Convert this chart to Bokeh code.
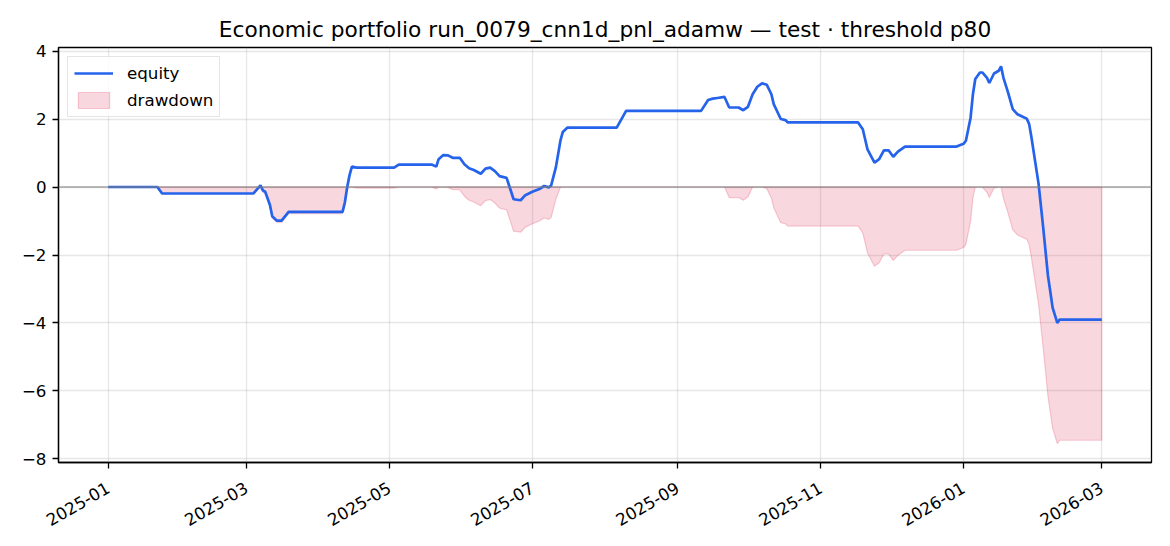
import numpy as np
import pandas as pd
from bokeh.plotting import figure
from bokeh.models import (Range1d, FixedTicker, DatetimeTickFormatter, Span,
                          Legend, LegendItem, CustomJSTickFormatter)
from bokeh.embed import file_html
from bokeh.resources import INLINE

title_text = "Economic portfolio run_0079_cnn1d_pnl_adamw \u2014 test \u00b7 threshold p80"

dates = [
    "2025-01-01", "2025-01-22", "2025-01-24", "2025-03-04", "2025-03-07", "2025-03-08",
    "2025-03-09", "2025-03-11", "2025-03-12", "2025-03-14", "2025-03-16", "2025-03-19",
    "2025-04-11", "2025-04-12", "2025-04-13", "2025-04-14", "2025-04-15", "2025-04-17",
    "2025-05-03", "2025-05-05", "2025-05-19", "2025-05-21", "2025-05-22", "2025-05-24",
    "2025-05-26", "2025-05-28", "2025-05-31", "2025-06-02", "2025-06-04", "2025-06-06",
    "2025-06-09", "2025-06-11", "2025-06-13", "2025-06-15", "2025-06-17", "2025-06-20",
    "2025-06-21", "2025-06-23", "2025-06-26", "2025-06-28", "2025-07-01", "2025-07-04",
    "2025-07-06", "2025-07-08", "2025-07-09", "2025-07-11", "2025-07-13", "2025-07-14",
    "2025-07-16", "2025-08-06", "2025-08-10", "2025-09-11", "2025-09-14", "2025-09-16",
    "2025-09-18", "2025-09-21", "2025-09-23", "2025-09-27", "2025-09-29", "2025-10-01",
    "2025-10-03", "2025-10-05", "2025-10-07", "2025-10-09", "2025-10-11", "2025-10-12",
    "2025-10-15", "2025-10-17", "2025-10-18", "2025-11-17", "2025-11-19", "2025-11-21",
    "2025-11-24", "2025-11-26", "2025-11-28", "2025-11-30", "2025-12-02", "2025-12-04",
    "2025-12-07", "2025-12-29", "2026-01-01", "2026-01-02", "2026-01-04", "2026-01-05",
    "2026-01-06", "2026-01-08", "2026-01-09", "2026-01-11", "2026-01-12", "2026-01-14",
    "2026-01-16", "2026-01-17", "2026-01-18", "2026-01-20", "2026-01-22", "2026-01-24",
    "2026-01-28", "2026-01-29", "2026-01-30", "2026-02-02", "2026-02-04", "2026-02-06",
    "2026-02-07", "2026-02-08", "2026-02-10", "2026-02-11", "2026-03-01",
]
equity = [
    0.00, 0.00, -0.19, -0.19, 0.05, -0.10,
    -0.14, -0.52, -0.86, -0.99, -0.99, -0.73,
    -0.73, -0.45, 0.00, 0.35, 0.60, 0.57,
    0.57, 0.66, 0.66, 0.60, 0.82, 0.94,
    0.93, 0.86, 0.86, 0.67, 0.55, 0.50,
    0.39, 0.54, 0.57, 0.47, 0.32, 0.27,
    0.06, -0.36, -0.39, -0.24, -0.14, -0.06,
    0.03, -0.01, 0.04, 0.57, 1.37, 1.62,
    1.75, 1.75, 2.24, 2.24, 2.56, 2.60,
    2.62, 2.65, 2.34, 2.34, 2.26, 2.36,
    2.73, 2.95, 3.05, 3.01, 2.73, 2.44,
    2.00, 1.97, 1.90, 1.90, 1.70, 1.11,
    0.72, 0.82, 1.08, 1.08, 0.89, 1.04,
    1.19, 1.19, 1.27, 1.36, 2.04, 2.73,
    3.18, 3.37, 3.37, 3.21, 3.06, 3.34,
    3.42, 3.55, 3.22, 2.78, 2.29, 2.14,
    2.01, 1.85, 1.45, 0.10, -1.20, -2.60,
    -3.07, -3.55, -4.00, -3.90, -3.90,
]
x_tick_dates = ["2025-01-01", "2025-03-01", "2025-05-01", "2025-07-01",
                "2025-09-01", "2025-11-01", "2026-01-01", "2026-03-01"]
y_ticks = [-8, -6, -4, -2, 0, 2, 4]


def to_ms(ds):
    return pd.to_datetime(ds).values.astype("datetime64[ms]").astype("int64").astype(float)


x = to_ms(dates)
eq = np.array(equity, dtype=float)
dd = eq - np.maximum.accumulate(eq)

xpad = 0.05 * (x.max() - x.min())
ylo = min(dd.min(), eq.min())
yhi = max(eq.max(), 0.0)
ypad = 0.05 * (yhi - ylo)

FONT = "DejaVu Sans"

p = figure(
    x_axis_type="datetime",
    frame_width=1093, frame_height=415,
    min_border_left=58, min_border_right=11, min_border_top=47, min_border_bottom=80,
    output_backend="svg", toolbar_location=None,
    x_range=Range1d(x.min() - xpad, x.max() + xpad),
    y_range=Range1d(ylo - ypad, yhi + ypad),
    title=title_text,
    background_fill_color="white", border_fill_color="white",
)

p.title.text_font = FONT
p.title.text_font_size = "21.7px"
p.title.text_font_style = "normal"
p.title.align = "center"
p.title.text_color = "black"
p.title.standoff = 11

# drawdown area
xs = np.concatenate([x, x[::-1]])
ys = np.concatenate([dd, np.zeros_like(dd)])
r_dd = p.patch(xs, ys, fill_color="crimson", fill_alpha=0.17,
               line_color="crimson", line_alpha=0.2, line_width=1.2)

p.add_layout(Span(location=0, dimension="width", line_color="#808080",
                  line_alpha=0.7, line_width=1.3))

r_eq = p.line(x, eq, line_color="#2563eb", line_width=2.7)

legend = Legend(items=[LegendItem(label="equity", renderers=[r_eq]),
                       LegendItem(label="drawdown", renderers=[r_dd])],
                location="top_left")
legend.label_text_font = FONT
legend.label_text_font_size = "16.7px"
legend.label_text_color = "black"
legend.glyph_width = 39
legend.glyph_height = 20
legend.label_height = 20
legend.spacing = 7
legend.padding = 6
legend.margin = 9
legend.label_standoff = 14
legend.border_line_color = "#cccccc"
legend.border_line_width = 1.3
legend.background_fill_alpha = 0.8
p.add_layout(legend)

# axes
p.xaxis.ticker = FixedTicker(ticks=list(to_ms(x_tick_dates)))
fmt = "%Y-%m"
p.xaxis.formatter = DatetimeTickFormatter(
    milliseconds=fmt, seconds=fmt, minsec=fmt, minutes=fmt, hourmin=fmt,
    hours=fmt, days=fmt, months=fmt, years=fmt)
p.xaxis.major_label_orientation = np.pi / 6
p.yaxis.ticker = FixedTicker(ticks=y_ticks)
p.yaxis.formatter = CustomJSTickFormatter(
    code="return tick < 0 ? '\\u2212' + String(-tick) : String(tick);")

for ax in (p.xaxis, p.yaxis):
    ax.axis_line_color = "black"
    ax.axis_line_width = 1.3
    ax.major_tick_line_color = "black"
    ax.major_tick_line_width = 1.3
    ax.major_tick_out = 6
    ax.major_tick_in = 0
    ax.minor_tick_out = 0
    ax.minor_tick_in = 0
    ax.major_label_text_font = FONT
    ax.major_label_text_font_size = "16.7px"
    ax.major_label_text_color = "black"
    ax.major_label_standoff = 6

p.xaxis.major_label_standoff = 18

p.outline_line_color = "black"
p.outline_line_width = 1.3
p.outline_line_alpha = 1.0

p.xgrid.ticker = FixedTicker(ticks=list(to_ms(x_tick_dates)))
p.ygrid.ticker = FixedTicker(ticks=y_ticks)
p.grid.grid_line_color = "#b0b0b0"
p.grid.grid_line_alpha = 0.3
p.grid.grid_line_width = 1.3

open("out.html", "w").write(file_html(p, INLINE))
